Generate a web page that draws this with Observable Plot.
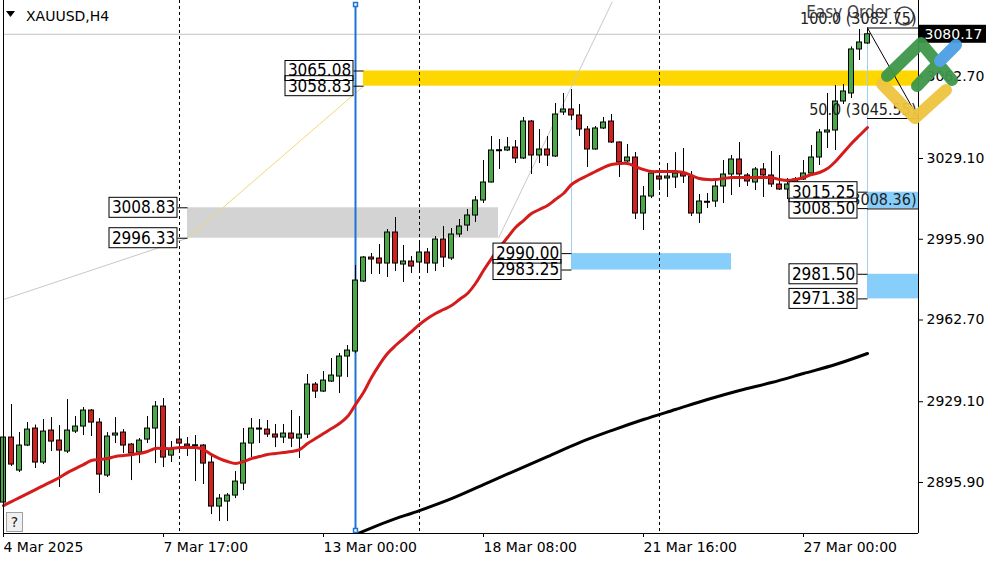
<!DOCTYPE html>
<html><head><meta charset="utf-8">
<script src="https://cdn.jsdelivr.net/npm/d3@7"></script>
<script src="https://cdn.jsdelivr.net/npm/@observablehq/plot@0.6"></script>
<style>
body{margin:0;background:#fff;}
#wrap{position:relative;width:1000px;height:562px;overflow:hidden;background:#fff;}
#wrap svg{display:block;}
#over{position:absolute;left:0;top:0;pointer-events:none;}
</style></head><body><div id="wrap"></div>
<script>
// ---- data (XAUUSD H4) ----
const opens = [
2887.65,2914.38,2900.81,2911.09,2918.08,2904.10,2917.25,2913.14,2908.62,2916.84,
2918.90,2925.48,2920.54,2898.75,2915.20,2916.43,2911.50,2908.21,2913.55,2918.08,
2927.12,2906.97,2913.55,2911.50,2911.09,2911.09,2904.10,2886.00,2888.06,2890.53,
2895.46,2911.91,2917.66,2917.66,2915.61,2914.38,2916.02,2913.96,2915.61,2936.17,
2933.29,2937.40,2939.46,2947.68,2949.74,2978.52,2988.39,2987.98,2985.92,2998.67,
2985.51,2986.75,2986.34,2990.45,2985.92,2995.79,2987.98,2997.85,3001.55,3005.66,
3011.83,3019.23,3032.39,3032.39,3033.62,3029.10,3044.31,3030.33,3032.80,3029.92,
3048.02,3049.25,3046.78,3041.02,3032.80,3041.44,3044.31,3035.68,3027.87,3029.51,
3006.48,3013.47,3021.70,3020.88,3021.29,3022.93,3021.70,3006.48,3011.01,3011.42,
3017.59,3022.52,3028.69,3022.11,3019.23,3024.58,3022.11,3018.41,3016.35,3020.46,
3020.46,3022.93,3029.51,3039.79,3040.61,3052.54,3055.83,3073.92,3076.39];
const highs = [
2921.37,2927.94,2916.43,2920.54,2919.50,2921.78,2922.60,2919.31,2930.00,2923.01,
2926.71,2925.89,2922.19,2916.43,2922.60,2917.66,2911.91,2913.96,2923.01,2929.18,
2930.41,2912.73,2918.08,2914.38,2915.20,2911.50,2906.56,2890.94,2891.35,2900.39,
2918.08,2922.19,2921.78,2921.37,2919.72,2919.72,2925.48,2923.01,2940.28,2936.99,
2941.51,2946.86,2948.92,2952.21,2985.10,2988.80,2990.04,2993.74,2999.91,3004.84,
2993.33,2988.80,2994.56,2992.09,2997.03,3001.14,3000.32,3004.02,3008.13,3013.47,
3028.28,3038.15,3036.91,3037.74,3036.50,3045.96,3044.73,3041.02,3038.15,3051.72,
3055.83,3057.47,3051.30,3042.26,3042.26,3045.96,3047.19,3035.90,3034.86,3031.57,
3017.59,3024.17,3024.58,3027.04,3031.50,3033.21,3023.75,3014.30,3014.71,3020.46,
3028.28,3030.33,3035.68,3022.93,3025.40,3027.04,3031.98,3030.33,3020.88,3021.29,
3028.28,3034.45,3041.02,3055.83,3059.12,3059.53,3075.00,3082.14,3082.75];
const lows = [
2886.42,2902.45,2899.98,2910.67,2901.63,2903.27,2908.62,2893.82,2907.80,2916.02,
2915.20,2914.79,2891.35,2897.93,2911.91,2907.80,2896.69,2903.68,2911.91,2903.68,
2902.04,2904.10,2909.03,2906.56,2896.28,2895.05,2882.71,2879.84,2879.84,2889.29,
2892.58,2906.15,2911.91,2914.38,2910.26,2911.91,2910.26,2905.74,2913.96,2930.41,
2932.88,2937.00,2932.47,2939.05,2948.92,2978.10,2981.40,2981.40,2980.17,2982.63,
2978.11,2981.81,2982.63,2981.81,2982.63,2984.28,2987.16,2996.62,2999.08,3002.78,
3010.60,3019.00,3024.58,3032.00,3027.04,3028.69,3022.52,3027.04,3025.81,3029.51,
3046.78,3044.73,3038.15,3025.40,3032.50,3041.02,3035.27,3021.29,3027.46,3004.02,
2999.49,3012.65,3015.94,3013.06,3016.76,3018.82,3005.25,3002.37,3008.54,3009.00,
3010.60,3013.89,3017.18,3017.59,3015.94,3013.06,3017.18,3015.94,3012.24,3017.18,
3020.05,3022.70,3026.22,3033.21,3032.39,3051.30,3053.77,3069.40,3076.00];
const closes = [
2914.38,2903.27,2911.09,2917.66,2904.10,2916.84,2912.73,2909.03,2917.25,2918.90,
2925.48,2920.54,2899.16,2914.79,2916.02,2911.09,2907.80,2913.14,2918.08,2927.12,
2906.15,2909.44,2911.91,2910.67,2910.90,2903.68,2886.00,2889.29,2890.53,2896.28,
2911.91,2918.08,2918.08,2915.61,2914.38,2916.02,2913.96,2915.61,2936.17,2933.29,
2937.81,2939.87,2947.68,2950.15,2978.93,2988.39,2987.57,2985.92,2998.67,2985.92,
2986.75,2984.69,2990.45,2985.92,2995.79,2988.39,2997.85,3001.14,3005.66,3011.83,
3019.23,3032.39,3032.20,3033.62,3029.10,3044.31,3030.33,3032.80,3030.33,3047.19,
3049.25,3046.78,3041.02,3032.80,3041.44,3043.90,3035.68,3027.46,3029.51,3006.48,
3013.47,3022.93,3020.46,3021.70,3022.93,3021.70,3006.48,3011.42,3011.20,3017.59,
3022.52,3028.69,3022.52,3019.64,3024.58,3022.11,3018.41,3016.35,3018.41,3019.23,
3022.93,3029.51,3039.79,3040.61,3052.54,3056.65,3073.92,3076.80,3080.17];
const maFast = [
2886.42,2888.06,2889.70,2891.35,2892.99,2894.64,2896.28,2897.93,2899.98,2901.63,
2903.27,2904.92,2905.33,2905.74,2906.56,2906.97,2907.38,2907.80,2908.62,2909.85,
2909.85,2909.85,2910.26,2910.26,2910.26,2909.44,2907.38,2905.74,2904.51,2903.68,
2904.51,2905.74,2906.56,2907.38,2907.80,2908.21,2908.62,2909.44,2911.91,2913.96,
2916.02,2918.08,2920.13,2923.01,2927.94,2932.88,2939.05,2944.39,2948.92,2952.21,
2955.08,2957.96,2960.84,2963.31,2965.37,2967.01,2968.66,2971.13,2973.59,2977.71,
2983.05,2987.98,2992.50,2996.62,3000.73,3003.61,3006.48,3008.13,3009.77,3012.24,
3014.71,3018.41,3020.46,3022.11,3023.75,3025.40,3026.63,3027.04,3027.04,3025.81,
3024.58,3023.75,3023.75,3023.75,3023.75,3023.34,3022.11,3020.88,3020.46,3020.46,
3020.88,3021.29,3021.29,3021.29,3021.29,3021.29,3021.29,3020.46,3020.05,3020.46,
3021.29,3022.52,3023.34,3024.99,3027.87,3031.57,3035.27,3038.56,3041.85];
const maSlowBars = [44,48,52,56,60,64,68,72,76,80,84,88,92,96,100,104,108];
const maSlow = [2874.50,2879.84,2884.36,2889.29,2895.05,2900.81,2906.56,2912.32,2917.25,2921.78,2925.89,2930.00,2933.70,2936.99,2940.69,2944.39,2948.92];
const dateTickBars = [0,20,40,60,80,100];
const dateTickLabels = ["4 Mar 2025","7 Mar 17:00","13 Mar 00:00","18 Mar 08:00","21 Mar 16:00","27 Mar 00:00"];
const priceTicks = [3062.70,3029.10,2995.90,2962.70,2929.10,2895.90];
const weekSeparators = [22,52,82];
const bidPrice = 3080.17;
const symbolTitle = "XAUUSD,H4";
// zones: [fromBar, toBar(null = right edge), low, high, colour]
const zoneFrom  = [45, 23, 71, 108, 108];
const zoneTo    = [null, 61.875, 91, null, null];
const zoneLow   = [3058.83, 2996.33, 2983.25, 3008.50, 2971.38];
const zoneHigh  = [3065.08, 3008.83, 2990.00, 3015.25, 2981.50];
const zoneColor = ["#ffd700", "#d3d3d3", "#87cefa", "#87cefa", "#87cefa"];
// price labels attached to zones
const labelBar   = [45, 45, 23, 23, 71, 71, 108, 108, 108, 108];
const labelPrice = [3058.83, 3065.08, 2996.33, 3008.83, 2983.25, 2990.00, 3008.50, 3015.25, 2971.38, 2981.50];
// fibonacci
const fibBar = 108;
const fibLevels = [100.0, 50.0, 0.0];
const fibPrices = [3082.75, 3045.55, 3008.36];
const markerBar = 44;

// ---- geometry ----
const W = 1000, H = 562, mL = 3, mR = 82, mT = 0, mB = 29;
const xMax = 114.375, yMin = 2874.93, yMax = 3094.06;
const pxX = (W - mL - mR) / xMax;
const pxY = (H - mT - mB) / (yMax - yMin);
const dX = p => p / pxX, dY = p => p / pxY;
const FONT = "'DejaVu Sans', sans-serif";
const CFONT = "'DejaVu Sans Condensed', 'DejaVu Sans', sans-serif";
const GREEN = "#48a848", RED = "#d02020", MARED = "#d41c1c";

const candles = opens.map((o, i) => {
  const c = closes[i];
  let y1 = o, y2 = c;
  if (Math.abs(o - c) < dY(1)) { y1 = (o + c) / 2 - dY(0.5); y2 = (o + c) / 2 + dY(0.5); }
  return {i, o, c, h: highs[i], l: lows[i], y1, y2, up: c >= o};
});
const zones = zoneFrom.map((f, k) => ({x1: f, x2: zoneTo[k] ?? xMax, y1: zoneLow[k], y2: zoneHigh[k], fill: zoneColor[k]}));
const labels = labelBar.map((b, k) => ({b, p: labelPrice[k]}));
const fast = maFast.map((v, i) => ({i, v}));
const slow = maSlow.map((v, k) => ({i: maSlowBars[k], v}));
const fibs = fibPrices.map((p, k) => ({p, t: fibLevels[k].toFixed(1) + " (" + p.toFixed(2) + ")"}));

const chart = Plot.plot({
  width: W, height: H, marginLeft: mL, marginRight: mR, marginTop: mT, marginBottom: mB,
  x: {type: "linear", domain: [0, xMax]},
  y: {type: "linear", domain: [yMin, yMax]},
  style: {fontFamily: FONT, fontSize: "14px", color: "black", background: "white", overflow: "visible"},
  marks: [
    Plot.rect(zones, {x1: "x1", x2: "x2", y1: "y1", y2: "y2", fill: "fill"}),
    Plot.ruleY([bidPrice], {stroke: "#c4c4c4"}),
    Plot.ruleX(weekSeparators, {stroke: "black", strokeDasharray: "3,3"}),
    // connector lines between zone corners
    Plot.link([{x1: 0, y1: 2971.1, x2: 23, y2: 2996.33}], {x1: "x1", y1: "y1", x2: "x2", y2: "y2", stroke: "#c8c8c8", clip: true}),
    Plot.link([{x1: 23, y1: 2996.33, x2: 45, y2: 3058.83}], {x1: "x1", y1: "y1", x2: "x2", y2: "y2", stroke: "#f0d878"}),
    Plot.link([{x1: 61.875, y1: 2996.33, x2: 76.1, y2: 3093.5}], {x1: "x1", y1: "y1", x2: "x2", y2: "y2", stroke: "#c8c8c8", clip: true}),
    Plot.ruleX([{x: 71, y1: 3057.47, y2: 2990.00}, {x: 108, y1: 3080.17, y2: 2981.50}], {x: "x", y1: "y1", y2: "y2", stroke: "#9fd0f0"}),
    Plot.ruleX([markerBar], {y1: yMax - dY(4), y2: yMin + dY(2), stroke: "#1c74d4", strokeWidth: 2}),
    Plot.line(slow, {x: "i", y: "v", stroke: "black", strokeWidth: 3, clip: true, curve: "catmull-rom"}),
    Plot.ruleX(candles, {x: "i", y1: "l", y2: "h", stroke: "black"}),
    Plot.rect(candles, {x1: d => d.i - dX(2.5), x2: d => d.i + dX(2.5), y1: "y1", y2: "y2", fill: d => d.up ? GREEN : RED, stroke: "black"}),
    Plot.line(fast, {x: "i", y: "v", stroke: MARED, strokeWidth: 3, curve: "catmull-rom"}),
    Plot.dot([{x: markerBar, y: yMax - dY(4)}, {x: markerBar, y: yMin + dY(3)}], {x: "x", y: "y", symbol: "square", r: 2.2, stroke: "#1c74d4", fill: "white"}),
    // fibonacci
    Plot.ruleY(fibs, {y: "p", x1: fibBar, x2: xMax, stroke: "black"}),
    Plot.link([{x1: fibBar, y1: fibPrices[0], x2: fibBar + 12.75, y2: fibPrices[2]}], {x1: "x1", y1: "y1", x2: "x2", y2: "y2", stroke: "black", clip: true}),
    Plot.text(["Easy Order"], {x: xMax, y: fibPrices[0], dx: -28, dy: -15, text: d => d, textAnchor: "end", fill: "#444", fontSize: 17, fontFamily: CFONT}),
    Plot.dot([{x: xMax, y: fibPrices[0]}], {x: "x", y: "y", dx: -14, dy: -12, r: 9, stroke: "#444", fill: "none"}),
    Plot.text(fibs, {x: xMax, y: "p", dx: -2, dy: -9, text: "t", textAnchor: "end", fill: "#222", fontSize: 16, fontFamily: CFONT}),
    // price labels with boxes
    Plot.link(labels, {x1: d => d.b - dX(10), x2: "b", y1: "p", y2: "p", stroke: "black"}),
    Plot.rect(labels, {x1: d => d.b - dX(78), x2: d => d.b - dX(10), y1: d => d.p - dY(10), y2: d => d.p + dY(10), fill: "white"}),
    Plot.text(labels, {x: d => d.b - dX(44), y: "p", text: d => d.p.toFixed(2), fontSize: 17, fontFamily: CFONT, fill: "black"}),
    Plot.rect(labels, {x1: d => d.b - dX(78), x2: d => d.b - dX(10), y1: d => d.p - dY(10), y2: d => d.p + dY(10), fill: "none", stroke: "black"}),
    // frame lines
    Plot.ruleX([0, xMax], {stroke: "black"}),
    Plot.ruleY([yMin], {x1: 0, x2: xMax, stroke: "black"}),
    Plot.axisY({anchor: "right", ticks: priceTicks, tickFormat: d => d.toFixed(2), tickSize: 4, tickPadding: 4, fontSize: 14, label: null}),
    Plot.axisX({anchor: "bottom", ticks: dateTickBars, tickFormat: d => dateTickLabels[dateTickBars.indexOf(d)], tickSize: 4, tickPadding: 5, textAnchor: "start", fontSize: 14, label: null}),
    // current price tag
    Plot.rect([bidPrice], {x1: xMax, x2: xMax + dX(68), y1: d => d - dY(9), y2: d => d + dY(9), fill: "black"}),
    Plot.text([bidPrice], {x: xMax, y: d => d, dx: 6, text: d => d.toFixed(2), textAnchor: "start", fill: "white", fontSize: 14})
  ]
});
const wrap = document.getElementById("wrap");
wrap.appendChild(chart);

// overlay: symbol title, help button, watermark logo
const ns = "http://www.w3.org/2000/svg";
const over = document.createElementNS(ns, "svg");
over.setAttribute("id", "over");
over.setAttribute("width", W); over.setAttribute("height", H);
over.innerHTML = `
  <path d="M6,11 L15,11 L10.5,17 Z" fill="black"/>
  <text x="26" y="21" font-family="DejaVu Sans" font-size="14" fill="black">${symbolTitle}</text>
  <rect x="6.5" y="512.5" width="16" height="19" fill="#f0f0f0" stroke="#a0a0a0"/>
  <text x="14.5" y="527" text-anchor="middle" font-family="DejaVu Sans" font-size="14" fill="#222">?</text>
  <g fill="none" stroke-linecap="round" stroke-linejoin="round" stroke-width="12" opacity="0.95">
    <path d="M882,84 L915,118 L946,90" stroke="#efc53f"/>
    <path d="M887,76 L921,43 L952,80" stroke="#3e964a"/>
    <path d="M917,86 L937,65" stroke="#3e964a"/>
    <path d="M940,61 L956,45" stroke="#4b9fe3"/>
  </g>`;
wrap.appendChild(over);
</script>
</body></html>
